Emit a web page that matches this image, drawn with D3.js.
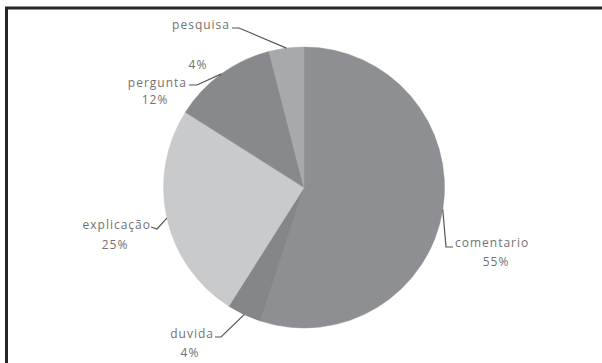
<!DOCTYPE html>
<html>
<head>
<meta charset="utf-8">
<script src="https://cdn.jsdelivr.net/npm/d3@7/dist/d3.min.js"></script>
<style>
  html, body { margin: 0; padding: 0; background: #fff; }
  svg { display: block; }
  text { font-family: "Open Sans", "DejaVu Sans", sans-serif; font-size: 12px; fill: #727272; letter-spacing: 1px; }
</style>
</head>
<body>
<svg id="chart" width="602" height="363"></svg>
<script>
// Categories and their shares (percent)
const categories = ["comentario", "duvida", "explicação", "pergunta", "pesquisa"];
const values = [55, 4, 25, 12, 4];
const percentLabels = ["55%", "4%", "25%", "12%", "4%"];
const sliceColors = ["#8e8f93", "#85868a", "#c9cacc", "#88898d", "#a8a9ac"];

// Label layout: name anchor, percent anchor, leader bend points (px)
const labelLayout = {
  "comentario": { name: [455, 247, "start"], pct: [496, 266], bend: [[446, 247], [453, 247]] },
  "duvida":     { name: [214, 338, "end"],   pct: [190, 357], bend: [[221, 337], [215, 337]] },
  "explicação": { name: [151, 229, "end"],   pct: [115, 249], bend: [[157, 229], [151, 227]] },
  "pergunta":   { name: [187, 87, "end"],    pct: [155, 104], bend: [[197, 85], [189, 85]] },
  "pesquisa":   { name: [230, 29, "end"],    pct: [198, 69],  bend: [[239, 28], [232, 28]] }
};

const svg = d3.select("#chart");

// Frame (top and left edges)
svg.append("line").attr("x1", 5).attr("y1", 8).attr("x2", 602).attr("y2", 8)
  .attr("stroke", "#262626").attr("stroke-width", 3);
svg.append("line").attr("x1", 6.5).attr("y1", 8).attr("x2", 6.5).attr("y2", 363)
  .attr("stroke", "#262626").attr("stroke-width", 3);

const cx = 304, cy = 187.5, r = 140.5;
const g = svg.append("g").attr("transform", `translate(${cx},${cy})`);

const data = categories.map((c, i) => ({ name: c, value: values[i], pct: percentLabels[i], color: sliceColors[i] }));
const pie = d3.pie().value(d => d.value).sort(null);
const arc = d3.arc().innerRadius(0).outerRadius(r);
const edge = d3.arc().innerRadius(r).outerRadius(r);
const arcs = pie(data);

g.selectAll("path.slice").data(arcs).join("path")
  .attr("class", "slice")
  .attr("d", arc)
  .attr("fill", d => d.data.color)
  .attr("stroke", d => d.data.color)
  .attr("stroke-width", 0.5);

// Leader lines from each slice's outer edge to its label
const line = d3.line();
svg.selectAll("path.leader").data(arcs).join("path")
  .attr("class", "leader")
  .attr("d", d => {
    const c = edge.centroid(d);
    const pts = [[c[0] + cx, c[1] + cy]].concat(labelLayout[d.data.name].bend);
    return line(pts);
  })
  .attr("fill", "none")
  .attr("stroke", "#555")
  .attr("stroke-width", 1.2);

svg.selectAll("text.name").data(arcs).join("text")
  .attr("class", "name")
  .attr("x", d => labelLayout[d.data.name].name[0])
  .attr("y", d => labelLayout[d.data.name].name[1])
  .attr("text-anchor", d => labelLayout[d.data.name].name[2])
  .text(d => d.data.name);

svg.selectAll("text.pct").data(arcs).join("text")
  .attr("class", "pct")
  .attr("x", d => labelLayout[d.data.name].pct[0])
  .attr("y", d => labelLayout[d.data.name].pct[1])
  .attr("text-anchor", "middle")
  .text(d => d.data.pct);
</script>
</body>
</html>
